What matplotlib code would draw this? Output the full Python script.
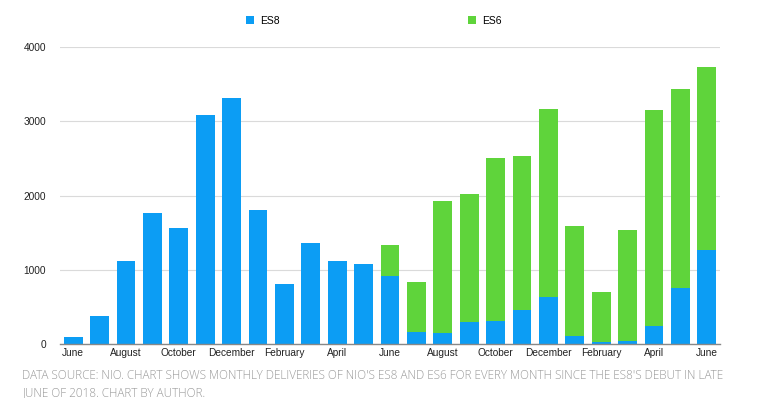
import matplotlib
matplotlib.use("Agg")
import matplotlib.pyplot as plt
import numpy as np

months = ["June", "July", "August", "September", "October", "November", "December",
          "January", "February", "March", "April", "May",
          "June", "July", "August", "September", "October", "November", "December",
          "January", "February", "March", "April", "May", "June"]
es8 = [90, 380, 1120, 1760, 1565, 3085, 3315, 1800, 810, 1365, 1120, 1080,
       916, 155, 145, 292, 310, 460, 638, 108, 30, 40, 245, 755, 1260]
es6 = [0, 0, 0, 0, 0, 0, 0, 0, 0, 0, 0, 0,
       420, 680, 1785, 1722, 2200, 2070, 2528, 1487, 670, 1490, 2900, 2680, 2475]
yticks = [0, 1000, 2000, 3000, 4000]
caption = ("DATA SOURCE: NIO. CHART SHOWS MONTHLY DELIVERIES OF NIO'S ES8 AND ES6 FOR EVERY MONTH SINCE THE ES8'S DEBUT IN LATE\n"
           "JUNE OF 2018. CHART BY AUTHOR.")

BLUE = "#0c9df4"
GREEN = "#5fd43b"

plt.rcParams['font.family'] = ['Liberation Sans', 'DejaVu Sans']

fig = plt.figure(figsize=(7.6, 3.98), dpi=100)
ax = fig.add_axes([60/760, 54/398, 660/760, 297/398])

x = np.arange(len(months))
b1 = ax.bar(x, es8, width=0.71, color=BLUE, label="ES8", zorder=3)
b2 = ax.bar(x, es6, width=0.71, bottom=es8, color=GREEN, label="ES6", zorder=3)

ax.set_xlim(-0.5, len(months) - 0.5)
ax.set_ylim(0, 4000)
ax.set_yticks(yticks)
ax.set_yticklabels([str(v) for v in yticks])
ax.set_xticks(x[::2])
ax.set_xticklabels(months[::2])
ax.tick_params(axis='both', length=0, labelsize=7.3, colors="#222222")
ax.tick_params(axis='y', pad=10)
ax.tick_params(axis='x', pad=3)
ax.grid(axis='y', color="#dadada", linewidth=0.8, zorder=0)
for s in ["top", "right", "left"]:
    ax.spines[s].set_visible(False)
ax.spines["bottom"].set_color("#888888")
ax.spines["bottom"].set_linewidth(1.0)
ax.spines["bottom"].set_zorder(4)

leg = fig.legend(handles=[b1, b2], labels=["ES8", "ES6"], ncol=2,
                 loc="center left", bbox_to_anchor=(246/760, 1 - 21/398),
                 frameon=False, fontsize=7.5, handlelength=0.8, handleheight=0.8,
                 handletextpad=0.6, columnspacing=18.0, borderpad=0, borderaxespad=0)

fig.text(22/760, 1 - 384/398, caption, fontsize=8.5, color="#9a9a9a",
         family=['Open Sans', 'DejaVu Sans'], va="center", linespacing=1.45,
         fontweight='light')

fig.savefig("out.png", dpi=100)
